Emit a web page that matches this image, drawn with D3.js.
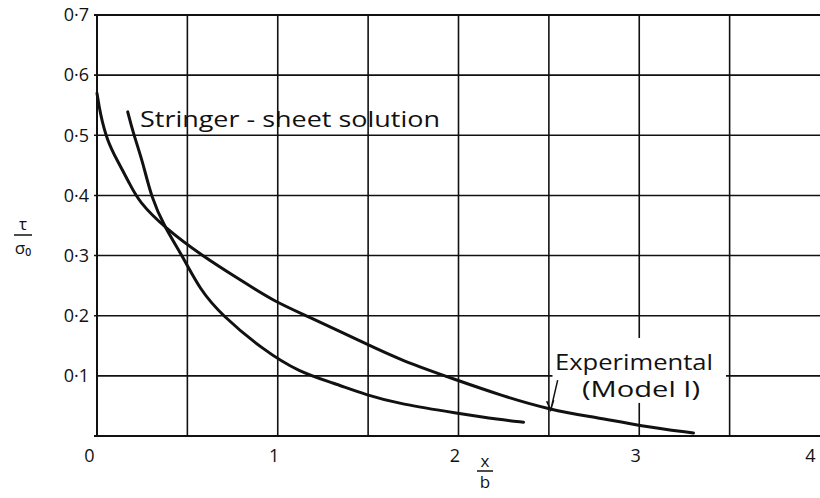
<!DOCTYPE html>
<html>
<head>
<meta charset="utf-8">
<script src="https://cdn.jsdelivr.net/npm/d3@7"></script>
<style>
  body { margin: 0; background: #fff; }
  svg { display: block; }
  text { font-family: "Open Sans", "DejaVu Sans", sans-serif; fill: #111; }
</style>
</head>
<body>
<svg id="chart" width="820" height="498"></svg>
<script>
// x/b values and tau/sigma0 values
const experimentalX = [0, 0.017, 0.055, 0.11, 0.18, 0.23, 0.376, 0.58, 0.79, 0.985, 1.16, 1.49, 1.68, 1.99, 2.23, 2.51, 2.78, 3.0, 3.30];
const experimentalY = [0.57, 0.537, 0.492, 0.459, 0.42, 0.39, 0.346, 0.30, 0.26, 0.223, 0.20, 0.153, 0.126, 0.093, 0.068, 0.043, 0.030, 0.017, 0.005];

const stringerX = [0.17, 0.20, 0.255, 0.30, 0.376, 0.47, 0.57, 0.69, 0.92, 1.12, 1.31, 1.49, 1.68, 1.99, 2.23, 2.36];
const stringerY = [0.539, 0.504, 0.454, 0.397, 0.346, 0.301, 0.243, 0.201, 0.143, 0.106, 0.088, 0.068, 0.053, 0.038, 0.027, 0.023];

const xTicks = [0, 1, 2, 3, 4];
const yTicks = [0.1, 0.2, 0.3, 0.4, 0.5, 0.6, 0.7];
const xGrid = [0, 0.5, 1, 1.5, 2, 2.5, 3, 3.5];
const yGrid = [0, 0.1, 0.2, 0.3, 0.4, 0.5, 0.6, 0.7];

const svg = d3.select('#chart');

const x = d3.scaleLinear().domain([0, 4]).range([97, 820]);
const y = d3.scaleLinear().domain([0, 0.7]).range([436, 15]);

// Grid, with the breaks left around the "Experimental" note
const grid = svg.append('g').attr('stroke', '#111').attr('stroke-width', 1.6);

yGrid.forEach(v => {
    if (v === 0.1) {
        grid.append('line').attr('x1', x(0)).attr('x2', x(2.52)).attr('y1', y(v)).attr('y2', y(v));
        grid.append('line').attr('x1', x(3.48)).attr('x2', 820).attr('y1', y(v)).attr('y2', y(v));
    } else {
        grid.append('line').attr('x1', x(0) - 3).attr('x2', 820).attr('y1', y(v)).attr('y2', y(v))
            .attr('stroke-width', v === 0 || v === 0.7 ? 2 : 1.6);
    }
});

xGrid.forEach(v => {
    if (v === 3) {
        grid.append('line').attr('x1', x(v)).attr('x2', x(v)).attr('y1', y(0.7)).attr('y2', y(0.163));
        grid.append('line').attr('x1', x(v)).attr('x2', x(v)).attr('y1', y(0.055)).attr('y2', y(0));
    } else {
        grid.append('line').attr('x1', x(v)).attr('x2', x(v)).attr('y1', y(0.7)).attr('y2', y(0))
            .attr('stroke-width', v === 0 ? 2 : 1.6);
    }
});

// Tick labels
const yFmt = d => d.toFixed(1).replace('.', '\u00b7');

const xAxis = svg.append('g')
    .attr('transform', `translate(0,${y(0)})`)
    .call(d3.axisBottom(x).tickValues(xTicks).tickSize(0).tickPadding(13).tickFormat(d3.format('d')));
xAxis.select('.domain').remove();
xAxis.selectAll('text')
    .attr('dx', d => d === 0 ? -8 : d === 4 ? -10 : -4)
    .style('font-size', '18px')
    .style('font-family', '"Open Sans", "DejaVu Sans", sans-serif')
    .attr('fill', '#111');

const yAxis = svg.append('g')
    .attr('transform', `translate(${x(0)},0)`)
    .call(d3.axisLeft(y).tickValues(yTicks).tickSize(0).tickPadding(8).tickFormat(yFmt));
yAxis.select('.domain').remove();
yAxis.selectAll('text')
    .style('font-size', '18px')
    .style('font-family', '"Open Sans", "DejaVu Sans", sans-serif')
    .attr('fill', '#111');

// Curves
const line = d3.line()
    .x(d => x(d[0]))
    .y(d => y(d[1]))
    .curve(d3.curveBasis);

svg.append('path')
    .datum(d3.zip(experimentalX, experimentalY))
    .attr('d', line)
    .attr('fill', 'none')
    .attr('stroke', '#111')
    .attr('stroke-width', 3)
    .attr('stroke-linecap', 'round');

svg.append('path')
    .datum(d3.zip(stringerX, stringerY))
    .attr('d', line)
    .attr('fill', 'none')
    .attr('stroke', '#111')
    .attr('stroke-width', 3)
    .attr('stroke-linecap', 'round');

// Annotations
svg.append('text')
    .attr('x', 140).attr('y', 127)
    .attr('textLength', 300)
    .attr('lengthAdjust', 'spacingAndGlyphs')
    .style('font-size', '21px')
    .text('Stringer - sheet  solution');

svg.append('text')
    .attr('x', 555).attr('y', 370)
    .attr('textLength', 158)
    .attr('lengthAdjust', 'spacingAndGlyphs')
    .style('font-size', '21px')
    .text('Experimental');

svg.append('text')
    .attr('x', 582).attr('y', 397)
    .attr('textLength', 118)
    .attr('lengthAdjust', 'spacingAndGlyphs')
    .style('font-size', '21px')
    .text('(Model  I)');

// Arrow to the experimental curve at x/b = 2.5
const tip = [x(2.51), y(0.043)];
svg.append('path')
    .attr('d', `M${tip[0] + 7},${tip[1] - 30} L${tip[0]},${tip[1]} M${tip[0] - 4},${tip[1] - 9} L${tip[0]},${tip[1]} L${tip[0] + 3},${tip[1] - 10}`)
    .attr('fill', 'none')
    .attr('stroke', '#111')
    .attr('stroke-width', 1.5);

// Axis titles, each as one stacked fraction
const xt = svg.append('g');
xt.append('text')
    .attr('text-anchor', 'middle')
    .style('font-size', '17px')
    .call(t => t.append('tspan').attr('x', 485).attr('y', 467).text('x'))
    .call(t => t.append('tspan').attr('x', 485).attr('y', 488).text('b'));
xt.append('line').attr('x1', 477).attr('x2', 493).attr('y1', 471).attr('y2', 471).attr('stroke', '#111').attr('stroke-width', 1.5);

const yt = svg.append('g');
yt.append('text')
    .attr('text-anchor', 'middle')
    .style('font-size', '17px')
    .call(t => t.append('tspan').attr('x', 23).attr('y', 230).text('\u03c4'))
    .call(t => t.append('tspan').attr('x', 23).attr('y', 254).text('\u03c3\u2080'));
yt.append('line').attr('x1', 14).attr('x2', 32).attr('y1', 235).attr('y2', 235).attr('stroke', '#111').attr('stroke-width', 1.5);
</script>
</body>
</html>
